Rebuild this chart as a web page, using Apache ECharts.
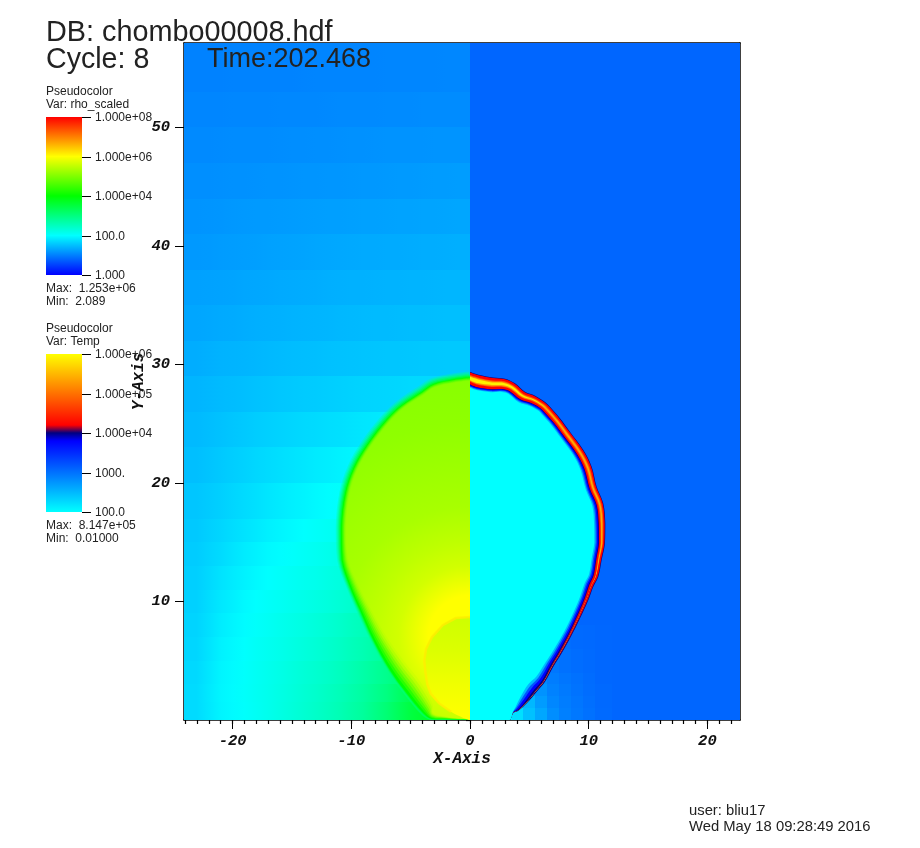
<!DOCTYPE html>
<html><head><meta charset="utf-8">
<style>html,body{margin:0;padding:0;background:#fff}#c{width:920px;height:848px}</style>
<script src="https://cdn.jsdelivr.net/npm/echarts@6/dist/echarts.min.js"></script>
</head><body><div id="c"></div>
<script>
// ---------- tick labels ----------
const xMajorTicks=[-20,-10,0,10,20];
const yMajorTicks=[10,20,30,40,50];
const xMinorTicks=[-24,-23,-22,-21,-20,-19,-18,-17,-16,-15,-14,-13,-12,-11,-10,-9,-8,-7,-6,-5,-4,-3,-2,-1,0,1,2,3,4,5,6,7,8,9,10,11,12,13,14,15,16,17,18,19,20,21,22];
const yMinorTicks=[0,1,2,3,4,5,6,7,8,9,10,11,12,13,14,15,16,17,18,19,20,21,22,23,24,25,26,27,28,29,30,31,32,33,34,35,36,37,38,39,40,41,42,43,44,45,46,47,48,49,50,51,52,53,54,55,56,57];
const rhoLegend=[[0,'1.000'],[2,'100.0'],[4,'1.000e+04'],[6,'1.000e+06'],[8,'1.000e+08']];
const tempLegend=[[2,'100.0'],[3,'1000.'],[4,'1.000e+04'],[5,'1.000e+05'],[6,'1.000e+06']];

// ---------- left half: log10(rho_scaled) outside the bubble ----------
const leftXEdges=[-24.1,-22,-20,-18,-16,-14,-12,-10,-8,-6,-4,-2,0];
const leftYEdges=[0,1.5,3,5,7,9,11,13,15,17,20,23,26,29,32,35,38,41,44,47,50,53,57.2];
const leftLogRho=[
[1.72,1.92,2.02,2.14,2.28,2.42,2.58,2.78,3.10,3.50,3.75,3.90],
[1.72,1.93,2.03,2.14,2.27,2.40,2.55,2.74,3.00,3.40,3.60,3.60],
[1.70,1.92,2.02,2.13,2.25,2.37,2.50,2.68,2.90,3.20,3.20,3.20],
[1.68,1.90,2.01,2.11,2.21,2.32,2.45,2.60,2.80,2.80,2.80,2.80],
[1.66,1.86,1.98,2.08,2.18,2.28,2.40,2.55,2.70,2.70,2.70,2.70],
[1.64,1.82,1.95,2.05,2.13,2.22,2.32,2.45,2.45,2.45,2.45,2.45],
[1.62,1.78,1.90,2.00,2.08,2.15,2.25,2.35,2.35,2.35,2.35,2.35],
[1.60,1.72,1.85,1.95,2.02,2.10,2.20,2.25,2.25,2.25,2.25,2.25],
[1.58,1.68,1.78,1.88,1.96,2.04,2.12,2.15,2.15,2.15,2.15,2.15],
[1.55,1.63,1.72,1.80,1.88,1.95,2.02,2.05,2.05,2.05,2.05,2.05],
[1.50,1.58,1.65,1.72,1.78,1.84,1.90,1.95,1.95,1.95,1.95,1.95],
[1.46,1.52,1.58,1.63,1.68,1.72,1.76,1.80,1.84,1.84,1.84,1.84],
[1.42,1.47,1.50,1.54,1.58,1.60,1.63,1.66,1.68,1.70,1.70,1.70],
[1.36,1.40,1.42,1.45,1.48,1.50,1.52,1.54,1.55,1.56,1.57,1.58],
[1.30,1.33,1.36,1.38,1.40,1.42,1.44,1.46,1.47,1.48,1.49,1.50],
[1.26,1.28,1.30,1.32,1.34,1.36,1.38,1.39,1.40,1.41,1.42,1.43],
[1.20,1.22,1.24,1.26,1.28,1.30,1.32,1.33,1.34,1.35,1.36,1.37],
[1.16,1.18,1.20,1.21,1.22,1.24,1.25,1.26,1.27,1.28,1.29,1.30],
[1.12,1.13,1.14,1.15,1.16,1.17,1.18,1.19,1.20,1.21,1.22,1.23],
[1.08,1.09,1.10,1.10,1.11,1.12,1.13,1.14,1.15,1.15,1.16,1.16],
[1.05,1.05,1.06,1.06,1.07,1.07,1.08,1.08,1.09,1.09,1.10,1.10],
[1.02,1.02,1.03,1.03,1.03,1.04,1.04,1.04,1.05,1.05,1.05,1.06]];

// ---------- right half: log10(Temp) outside the bubble ----------
const rightXEdges=[0,3.5,4.5,5.5,6.5,7.5,8.5,9.5,10.5,12,22.8];
const rightYEdges=[0,1,2,3,4,6,8,57.2];
const rightLogT=[
[2.10,2.22,2.44,2.62,2.80,2.90,2.95,3.00,3.05,3.08],
[2.00,2.30,2.50,2.70,2.85,2.92,2.97,3.02,3.06,3.08],
[2.00,2.00,2.60,2.76,2.88,2.94,2.99,3.03,3.06,3.08],
[2.00,2.00,2.00,2.82,2.92,2.97,3.00,3.04,3.07,3.08],
[2.00,2.00,2.00,2.90,2.96,3.00,3.03,3.05,3.07,3.08],
[2.00,2.00,2.00,2.00,3.00,3.03,3.05,3.06,3.07,3.08],
[3.08,3.08,3.08,3.08,3.08,3.08,3.08,3.08,3.08,3.08]];

// ---------- left bubble: green rim line and its fade widths ----------
const rimX=[0,-1.4,-3.09,-4.07,-5.75,-7.02,-8.7,-9.83,-10.53,-10.87,-10.81,-10.11,-9.27,-8.14,-6.74,-5.33,-3.93,-3.23,-2,-1,0];
const rimY=[28.92,28.75,28.35,27.7,26.58,25.37,23.2,21.24,19.13,16.31,13.5,11.25,9.28,6.75,4.22,2.25,0.57,0.1,0.08,0.05,0.03];
const rimOuter=[.5,.5,.52,.52,.52,.52,.52,.5,.48,.44,.38,.3,.3,.25,.25,.22,.2,.15,.05,.05,.05];
const rimInner=[.32,.32,.32,.32,.32,.34,.36,.38,.4,.45,.55,.7,.85,1.1,1.4,1.5,1.1,.5,.2,.1,.05];
// interior log10(rho) against distance from the brightest point
const coreCentre=[0,7];
const coreRadius=[0,3.5,6,8,11,13,18,23];
const coreLogRho=[6,6,5.65,5.5,5.32,5.26,5.12,5.05];
// inner sphere near the origin
const sphereX=[0,-1.2,-2.3,-3.2,-3.7,-3.85,-3.75,-3.6,-3.3,-2.6,-1.6,-0.6,0];
const sphereY=[8.7,8.6,8.0,7.0,6,5,4,3,2.2,1.4,0.7,0.2,0];
const sphereHeight=[0,1,3,6,9];
const sphereLogRho=[6,5.97,5.88,5.72,5.6];

// ---------- right bubble: hot shell ----------
const shellX=[0,.84,1.94,2.95,3.79,4.63,5.48,6.32,6.74,7.58,8.42,9.55,10.25,10.67,11.23,11.40,11.37,11.09,10.81,10.39,9.97,9.27,8.57,7.72,7.02,6.32,5.62,4.78,4.07,3.65];
const shellY=[29.37,29.11,28.9,28.8,28.41,27.7,27.37,26.84,26.44,25.46,24.33,22.78,21.38,19.69,18.28,16.6,14.91,13.5,12.09,11.25,10.13,8.58,7.17,5.63,4.5,3.23,2.39,1.41,.78,.59];
const shellHot=[1.05,1,.95,.85,.75,.7,.65,.6,.6,.58,.58,.58,.58,.55,.52,.5,.45,.4,.36,.32,.28,.24,.2,.18,.15,.12,.1,.05,0,0];
const shellCore=[.6,.6,.55,.5,.4,.35,.3,.3,.3,.3,.32,.32,.32,.3,.3,.27,.22,.14,.06,0,0,0,0,0,0,0,0,0,0,0];
const shellYellow=[.3,.3,.22,.2,.15,.1,.05,.03,0,0,0,0,0,0,0,0,0,0,0,0,0,0,0,0,0,0,0,0,0,0];
const shellCold=[.3,.25,.25,.25,.25,.28,.28,.28,.3,.3,.3,.32,.35,.35,.38,.4,.4,.4,.4,.42,.42,.42,.45,.5,.55,.68,.8,.65,.35,.05];
const shellHotHeight=[0,1,3,5,9,13,30];
const shellHotLogT=[4,4,4.06,4.1,4.17,4.2,4.2];

// ---------- colour maps ----------
function hex(c){return '#'+c.map(v=>Math.round(v).toString(16).padStart(2,'0')).join('');}
const rhoStops=[[0,[0,0,255]],[.25,[0,255,255]],[.5,[0,255,0]],[.75,[255,255,0]],[1,[255,0,0]]];
const tempStops=[[0,[0,255,255]],[.45,[0,0,255]],[.5,[0,0,128]],[.55,[255,0,0]],[1,[255,255,0]]];
function cmap(stops,t){t=Math.max(0,Math.min(1,t));for(let i=1;i<stops.length;i++){if(t<=stops[i][0]){const a=stops[i-1],b=stops[i],f=(t-a[0])/(b[0]-a[0]);return hex(a[1].map((v,k)=>v+(b[1][k]-v)*f));}}return hex(stops[stops.length-1][1]);}
const rhoColor=v=>cmap(rhoStops,v/8);
const tempColor=v=>cmap(tempStops,(v-2)/4);

function cells(xE,yE,vals){const out=[];vals.forEach((row,j)=>row.forEach((v,i)=>out.push([xE[i],xE[i+1],yE[j],yE[j+1],v,i>0?row[i-1]:v,i<row.length-1?row[i+1]:v])));return out;}

// walk a measured contour inwards by a per-point depth
function inset(xs,ys,depth,side,clampX){
  return xs.map((x,i)=>{
    const a=Math.max(0,i-1),b=Math.min(xs.length-1,i+1);
    let tx=xs[b]-xs[a],ty=ys[b]-ys[a];const L=Math.hypot(tx,ty)||1;tx/=L;ty/=L;
    const d=depth(i);
    const nx=side>0?ty:-ty,ny=side>0?-tx:tx;
    let px=x+nx*d,py=Math.max(0,ys[i]+ny*d);
    px=clampX>0?Math.max(0,px):Math.min(0,px);
    return [px,py];
  });
}

const layers=[];
// left bubble
[[-1,'#00ff90',.3],[-.8,'#00ff80',.35],[-.6,'#00ff60',.45],[-.4,'#00ff40',.55],[-.2,'#00ff20',.7],[0,'#00ff00',1]].forEach(([f,c,o])=>{
  layers.push({pts:inset(rimX,rimY,i=>f*rimOuter[i],-1,-1),fill:()=>c,opacity:o});
});
const coreFill=api=>{const c=api.coord(coreCentre),e=api.coord([coreCentre[0]+coreRadius[coreRadius.length-1],coreCentre[1]]);const r=coreRadius[coreRadius.length-1];
  return new echarts.graphic.RadialGradient(c[0],c[1],e[0]-c[0],coreRadius.map((q,i)=>({offset:q/r,color:rhoColor(coreLogRho[i])})),true);};
[[.14,.2],[.28,.25],[.42,.3],[.56,.4],[.7,.5],[.85,.7],[1,1]].forEach(([f,o])=>{
  layers.push({pts:inset(rimX,rimY,i=>f*rimInner[i],-1,-1),fill:coreFill,opacity:o});
});
const sphereFill=api=>{const a=api.coord([0,0])[1],b=api.coord([0,sphereHeight[sphereHeight.length-1]])[1];
  return new echarts.graphic.LinearGradient(0,a,0,b,sphereHeight.map((h,i)=>({offset:h/sphereHeight[sphereHeight.length-1],color:rhoColor(sphereLogRho[i])})),true);};
layers.push({pts:sphereX.map((x,i)=>[x,sphereY[i]]),fill:sphereFill,opacity:1,stroke:'#ffee00',lineWidth:2.5,strokeOpacity:.8});

// right bubble
const hotFill=api=>{const a=api.coord([0,0])[1],top=shellHotHeight[shellHotHeight.length-1],b=api.coord([0,top])[1];
  return new echarts.graphic.LinearGradient(0,a,0,b,shellHotHeight.map((h,i)=>({offset:h/top,color:tempColor(shellHotLogT[i])})),true);};
const E=.05;
const shellBands=[
 [i=>0,()=>tempColor(4)],
 [i=>E,hotFill],
 [i=>E+(shellHot[i]-shellCore[i])/2,()=>tempColor(4.8)],
 [i=>E+(shellHot[i]-(shellCore[i]+shellYellow[i])/2)/2,()=>tempColor(5.3)],
 [i=>E+(shellHot[i]-shellYellow[i])/2,()=>tempColor(5.9)],
 [i=>E+(shellHot[i]+shellYellow[i])/2,()=>tempColor(5.3)],
 [i=>E+(shellHot[i]+(shellCore[i]+shellYellow[i])/2)/2,()=>tempColor(4.8)],
 [i=>E+(shellHot[i]+shellCore[i])/2,hotFill],
 [i=>E+shellHot[i],()=>tempColor(4)],
 [i=>E+shellHot[i]+.15*shellCold[i],()=>tempColor(3.8)],
 [i=>E+shellHot[i]+.45*shellCold[i],()=>tempColor(3.2)],
 [i=>E+shellHot[i]+.72*shellCold[i],()=>tempColor(2.5)],
 [i=>E+shellHot[i]+shellCold[i],()=>tempColor(2)]
];
shellBands.forEach(([dep,fill])=>layers.push({pts:inset(shellX,shellY,dep,1,1).concat([[3.3,0],[0,0]]),fill,opacity:1}));

function renderCell(map,smooth){return function(p,api){
  const a=api.coord([api.value(0),api.value(3)]),b=api.coord([api.value(1),api.value(2)]);
  const x0=Math.round(a[0]),y0=Math.round(a[1]),x1=Math.round(b[0]),y1=Math.round(b[1]);
  const v=api.value(4);
  const fill=smooth?new echarts.graphic.LinearGradient(x0,0,x1,0,[{offset:0,color:map((v+api.value(5))/2)},{offset:.5,color:map(v)},{offset:1,color:map((v+api.value(6))/2)}],true):map(v);
  return {type:'rect',shape:{x:x0,y:y0,width:x1-x0,height:y1-y0},style:{fill}};
};}
function renderLayer(p,api){
  const l=layers[api.value(0)];
  const pts=l.pts.map(q=>{const c=api.coord(q);return q[0]===0?[Math.round(c[0]),c[1]]:c;});
  const xs=pts.map(q=>q[0]),ys=pts.map(q=>q[1]);
  const box=[[Math.min(...xs),Math.min(...ys)],[Math.max(...xs),Math.max(...ys)]];
  const poly={type:'polygon',shape:{points:pts,smooth:.35,smoothConstraint:box},style:{fill:l.fill(api),opacity:l.opacity}};
  if(!l.stroke)return poly;
  return {type:'group',children:[poly,{type:'polyline',shape:{points:pts.slice(0,-2)},style:{fill:null,stroke:l.stroke,lineWidth:l.lineWidth,opacity:l.strokeOpacity}}]};
}

// ---------- legend and annotation text ----------
const texts=[];
function T(x,y,s,size){texts.push({type:'text',z:100,x,y,silent:true,style:{text:s,fill:'#222',font:size+'px "Liberation Sans"',verticalAlign:'middle',align:'left'}});}
T(46,33,'DB: chombo00008.hdf',28.8);
T(46,60,'Cycle: 8',28.6);
T(207,60,'Time:202.468',27);
T(46,92,'Pseudocolor',12);T(46,105,'Var: rho_scaled',12);
T(46,289,'Max:  1.253e+06',12);T(46,302,'Min:  2.089',12);
T(46,328.5,'Pseudocolor',12);T(46,342,'Var: Temp',12);
T(46,525.5,'Max:  8.147e+05',12);T(46,539,'Min:  0.01000',12);
T(689,811,'user: bliu17',14.8);T(689,827,'Wed May 18 09:28:49 2016',14.8);
const RB={top:117,h:158},TB={top:354,h:158};
function legendBar(stops,b){texts.push({type:'rect',z:100,silent:true,shape:{x:46,y:b.top,width:36,height:b.h},style:{fill:new echarts.graphic.LinearGradient(0,1,0,0,stops.map(s=>({offset:s[0],color:hex(s[1])})))}});}
legendBar(rhoStops,RB);legendBar(tempStops,TB);
function legendTicks(list,lo,hi,b){list.forEach(([v,s])=>{const y=Math.round(b.top+b.h*(hi-v)/(hi-lo))+.5;
  texts.push({type:'line',z:100,silent:true,shape:{x1:82,y1:y,x2:91,y2:y},style:{stroke:'#000',lineWidth:1}});
  T(95,y+.5,s,12);});}
legendTicks(rhoLegend,0,8,RB);legendTicks(tempLegend,2,6,TB);

const mono={fontFamily:'Liberation Mono',fontStyle:'italic',fontWeight:'bold',fontSize:15.5,color:'#111'};
const line={show:true,onZero:false,lineStyle:{color:'#000',width:1.5}};
const off={show:false};
const xExt={min:-24.094,max:22.746,type:'value',splitLine:off};
const yExt={min:0,max:57.13,type:'value',splitLine:off};

const chart=echarts.init(document.getElementById('c'),null,{renderer:'canvas'});
chart.setOption({
  animation:false,backgroundColor:'#fff',
  grid:{left:184,right:180,top:43,bottom:128,containLabel:false},
  xAxis:[
    Object.assign({},xExt,{position:'bottom',axisLine:line,name:'X-Axis',nameLocation:'middle',nameGap:31,nameMoveOverlap:false,nameTextStyle:Object.assign({},mono,{fontSize:16}),
      axisTick:{show:true,length:9,customValues:xMajorTicks,lineStyle:{color:'#000',width:1}},
      axisLabel:{show:true,margin:13,customValues:xMajorTicks,...mono}}),
    Object.assign({},xExt,{position:'bottom',axisLine:off,axisTick:{show:true,length:4,customValues:xMinorTicks,lineStyle:{color:'#000',width:1.2}},axisLabel:off}),
    Object.assign({},xExt,{position:'top',axisLine:line,axisTick:off,axisLabel:off})
  ],
  yAxis:[
    Object.assign({},yExt,{position:'left',axisLine:line,name:'Y-Axis',nameLocation:'middle',nameGap:37,nameMoveOverlap:false,nameRotate:90,nameTextStyle:Object.assign({},mono,{fontSize:16}),
      axisTick:{show:true,length:9,customValues:yMajorTicks,lineStyle:{color:'#000',width:1}},
      axisLabel:{show:true,margin:14,customValues:yMajorTicks,...mono}}),
    Object.assign({},yExt,{position:'left',axisLine:off,axisTick:{show:true,length:4,customValues:yMinorTicks,lineStyle:{color:'#000',width:1.2}},axisLabel:off}),
    Object.assign({},yExt,{position:'right',axisLine:line,axisTick:off,axisLabel:off})
  ],
  graphic:{elements:texts},
  series:[
    {type:'custom',renderItem:renderCell(rhoColor,true),clip:true,silent:true,encode:{x:[0,1],y:[2,3]},data:cells(leftXEdges,leftYEdges,leftLogRho),z:1},
    {type:'custom',renderItem:renderCell(tempColor,false),clip:true,silent:true,encode:{x:[0,1],y:[2,3]},data:cells(rightXEdges,rightYEdges,rightLogT),z:1},
    {type:'custom',renderItem:renderLayer,clip:true,silent:true,encode:{x:1,y:1},data:layers.map((l,i)=>[i,0]),z:2}
  ]
});
</script></body></html>
